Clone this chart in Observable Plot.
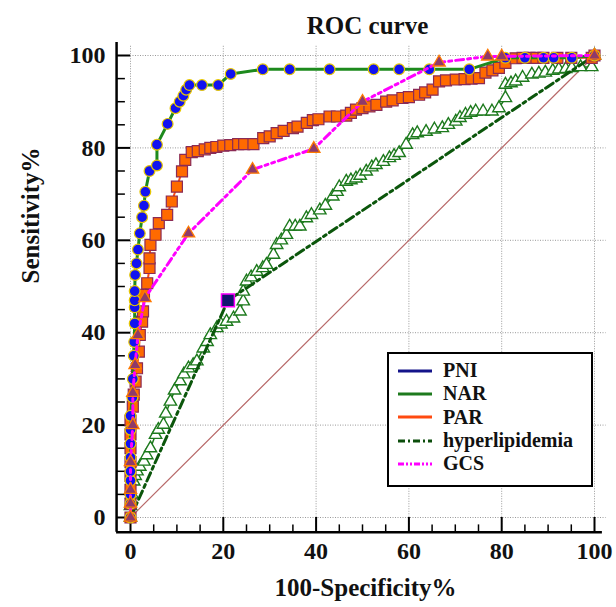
<!DOCTYPE html>
<html><head><meta charset="utf-8">
<script src="https://cdn.jsdelivr.net/npm/d3@7"></script>
<script src="https://cdn.jsdelivr.net/npm/@observablehq/plot@0.6"></script>
<style>
body{margin:0;background:#fff}
#wrap{position:relative;width:616px;height:607px;background:#fff}
#legend{position:absolute;left:387px;top:352px;width:202px;height:126px;border:2px solid #000;background:#fff;
 font-family:"Liberation Serif","Times New Roman",serif;font-weight:bold;font-size:20px;color:#111;padding-top:5px;box-sizing:content-box}
#legend .row{display:flex;align-items:center;height:23.3px}
#legend svg{margin-left:9px;margin-right:11px}
</style></head><body><div id="wrap"></div>
<script>
// ---- data (x = 100-Specificity %, y = Sensitivity %) ----
const pni = [[0,0],[0,3],[0,5],[0,8],[0,10],[0,13],[0,16],[0,19],[0,22],[0.4,26],[0.5,30],[0.7,35],[0.8,38],[0.9,42],[0.9,45.5],[0.9,47],[0.9,49],[1,52.5],[1.3,55],[1.6,58],[2,61.5],[2.5,65],[2.9,67.5],[3.2,70.5],[4.1,75],[5.7,76.2],[5.7,80.7],[8,85.2],[9.7,88.6],[10.6,90],[11.4,91.3],[12,92.6],[12.7,93.6],[15.4,93.6],[18.9,93.6],[21.6,96],[28.5,97],[34.3,97],[42.9,97],[52.4,97],[57.9,97],[64.4,97],[73,97],[80.8,99.5],[85,99.5],[89,99.5],[91.2,99.5],[95.1,99.5],[100,100]];
const par = [[0,0],[0,3],[0,6],[0,9],[0,12],[0,15],[0,18],[0,21],[0.5,24],[0.7,26.6],[1.1,29.4],[1.4,32.3],[1.8,35.9],[2,39.5],[2.5,42.4],[2.7,44.6],[2.9,48.2],[3.6,50.7],[4.1,54],[4.1,56.1],[4.3,59],[5.4,61.2],[6.1,63.7],[7.9,65.5],[8.9,68.4],[10,71.6],[11.1,74.9],[11.8,77.4],[13.2,79.1],[14.5,79.3],[16,79.7],[17.2,80],[18.5,80.2],[20,80.5],[21.5,80.6],[23.2,80.8],[24.5,80.8],[26.5,80.8],[28.6,82.1],[30,82.5],[31.5,83.2],[33,83.7],[35,84.3],[36,84.6],[38,85.4],[39.3,86],[40.5,86.2],[42.9,86.8],[44.5,86.8],[46.5,87],[47.5,87.6],[48.6,88.3],[50,88.6],[51.5,89],[53,89.3],[55.1,90],[56.5,90.3],[58.6,90.8],[60,91],[62.2,91.5],[63.5,92],[65.1,92.6],[66.5,94.4],[68,94.6],[70.1,94.8],[72,94.9],[73.5,95],[75.1,95.1],[76.5,96.3],[78,96.8],[79.4,97.3],[80.8,98.4],[83,99.4],[84.5,99.5],[86,99.5],[87.5,99.5],[89,99.5],[92,99.5],[95,99.5],[99.4,99.5],[100,100]];
const nar = [[0,0],[0,2.5],[0.3,5],[0.7,7.8],[1,9],[1.4,10],[2,11],[2.9,12.1],[3.5,13.5],[4.3,15],[5.4,17.9],[6,19],[7.1,20.1],[7.6,22.5],[8.6,25.1],[9.5,27.5],[10.7,29.5],[11.5,31],[12.5,32.3],[13.5,33],[14.3,33.8],[15.7,36.6],[16.5,38],[17.2,39.5],[18.6,41],[19.5,41.8],[20.7,42.4],[22.2,43.1],[23.6,44.6],[24.3,46.8],[24.3,48.9],[25,51.1],[26,52],[27.2,53.2],[28.5,54],[29.3,54.7],[30.8,56.9],[31.5,59],[32.5,60],[33.6,61.2],[34.3,63],[35.5,63],[36.5,63],[37.9,64.8],[39,65.5],[40.8,66.5],[42,67.5],[43.6,69.5],[44.5,70.5],[45,71.5],[46.5,72.7],[47.5,73],[48.6,73.4],[49.5,74],[50.8,74.9],[52,75.8],[52.9,76.3],[54.5,77],[55.8,77.8],[56.8,78.3],[57.9,78.9],[59.4,80.7],[60.8,82.8],[61.8,83.2],[63.7,83.5],[65.5,84],[67.2,84.3],[68.5,85],[70.1,85.7],[71,86.5],[72.2,87.2],[73.3,87.6],[74.4,87.9],[76,87.9],[77.9,87.9],[79.4,88.6],[80.8,90.8],[80.8,93.7],[82,94],[83,94.4],[84.5,95.2],[86.5,95.9],[88,96.1],[89.4,96.3],[91,96.7],[92.3,97],[93.8,97.1],[95.1,97.3],[97,97.5],[99.4,97.5],[100,100]];
const hyperlipidemia = [[0,0],[21,47],[100,100]];
const hyperMarker = [[21,47]];
const gcs = [[0,0],[0,3],[0,6],[0,12],[0.5,20],[0.5,27],[1,33],[1.6,39.5],[3.1,47.5],[12.5,61.5],[26.3,75.3],[39.5,79.8],[50,90],[66.5,98.5],[77,99.8],[80,99.8],[100,100]];
const diagonal = [[0,0],[100,100]];

const xMajor = [0,20,40,60,80,100];
const yMajor = [0,20,40,60,80,100];
const xMinor = [5,10,15,25,30,35,45,50,55,65,70,75,85,90,95];
const yMinor = [5,10,15,25,30,35,45,50,55,65,70,75,85,90,95];

const legendNames = ["PNI","NAR","PAR","hyperlipidemia","GCS"];
const legendColors = ["#14148a","#1d7a1d","#ff4a10","#0b4d0b","#ff00ff"];
const legendDashes = ["none","none","none","7,3,2,3","6,2,2,2,2,2"];

const font = '"Liberation Serif","Times New Roman",serif';
const P = d => d[0], Q = d => d[1];

const chart = Plot.plot({
  width: 616, height: 607,
  marginLeft: 130, marginRight: 22, marginTop: 55, marginBottom: 90,
  x: {domain: [0,100], axis: null},
  y: {domain: [0,100], axis: null},
  style: {background: "#fff", fontFamily: font},
  marks: [
    // grid
    Plot.ruleX(xMajor, {y1: -3.2, y2: 102.3, stroke: "#999", strokeDasharray: "1,1.5", strokeWidth: 1}),
    Plot.ruleY(yMajor, {x1: 0, x2: 102.5, stroke: "#999", strokeDasharray: "1,1.5", strokeWidth: 1}),
    // axes lines and ticks
    Plot.ruleX([-3], {y1: -3.2, y2: 102.8, stroke: "#000", strokeWidth: 2.5}),
    Plot.ruleY([-3.2], {x1: -3, x2: 101.7, stroke: "#000", strokeWidth: 2.5}),
    Plot.ruleY(yMajor, {x1: -3, x2: 0, stroke: "#000", strokeWidth: 2}),
    Plot.ruleY(yMinor, {x1: -3, x2: -1.1, stroke: "#000", strokeWidth: 1.5}),
    Plot.ruleX(xMajor, {y1: -3.2, y2: 0, stroke: "#000", strokeWidth: 2}),
    Plot.ruleX(xMinor, {y1: -3.2, y2: -1.6, stroke: "#000", strokeWidth: 1.5}),
    // tick labels
    Plot.text(yMajor, {y: d => d, text: d => String(d), frameAnchor: "left", dx: -25, textAnchor: "end", lineAnchor: "middle", fontSize: 24, fontWeight: "bold", fill: "#111"}),
    Plot.text(xMajor, {x: d => d, text: d => String(d), frameAnchor: "bottom", dy: 34, lineAnchor: "middle", fontSize: 24, fontWeight: "bold", fill: "#111"}),
    // titles
    Plot.text(["ROC curve"], {frameAnchor: "top", dx: 5, dy: -30, lineAnchor: "middle", fontSize: 25, fontWeight: "bold", fill: "#111"}),
    Plot.text(["100-Specificity%"], {frameAnchor: "bottom", dx: 3, dy: 70, lineAnchor: "middle", fontSize: 25, fontWeight: "bold", fill: "#111"}),
    Plot.text(["Sensitivity%"], {frameAnchor: "left", dx: -100, dy: -3, rotate: -90, lineAnchor: "middle", fontSize: 25, fontWeight: "bold", fill: "#111"}),
    // diagonal
    Plot.line(diagonal, {x: P, y: Q, stroke: "#b86a6a", strokeWidth: 1.2}),
    // NAR
    Plot.line(nar, {x: P, y: Q, stroke: "#1d7a1d", strokeWidth: 1.5}),
    Plot.dot(nar, {x: P, y: Q, symbol: "triangle", r: 4.6, fill: "#fff", stroke: "#1d7a1d", strokeWidth: 1.4}),
    // hyperlipidemia
    Plot.line(hyperlipidemia, {x: P, y: Q, stroke: "#0b560b", strokeWidth: 3, strokeDasharray: "9,4,3,4"}),
    Plot.dot(hyperMarker, {x: P, y: Q, symbol: "square", r: 7.3, fill: "#14146e", stroke: "#ff00ff", strokeWidth: 1.5}),
    // PAR
    Plot.line(par, {x: P, y: Q, stroke: "#ff4a10", strokeWidth: 2}),
    Plot.dot(par, {x: P, y: Q, symbol: "square", r: 6.2, fill: "#ff6a00", stroke: "#8b2b55", strokeWidth: 1.2}),
    // PNI
    Plot.line(pni, {x: P, y: Q, stroke: "#1d8a1d", strokeWidth: 3}),
    Plot.dot(pni, {x: P, y: Q, r: 5.4, fill: "#1212f0", stroke: "#e8c800", strokeWidth: 1.2}),
    // GCS
    Plot.line(gcs, {x: P, y: Q, stroke: "#ff00ff", strokeWidth: 3, strokeDasharray: "8,4,3,4,3,4"}),
    Plot.dot(gcs, {x: P, y: Q, symbol: "triangle", r: 4.6, fill: "#8e3a6a", stroke: "#ff7a00", strokeWidth: 1.3})
  ]
});

const wrap = document.getElementById("wrap");
wrap.appendChild(chart);

const legend = document.createElement("div");
legend.id = "legend";
legendNames.forEach((name, i) => {
  const row = document.createElement("div");
  row.className = "row";
  const dash = legendDashes[i] === "none" ? "" : ` stroke-dasharray="${legendDashes[i]}"`;
  row.innerHTML = `<svg width="34" height="6"><line x1="0" y1="3" x2="34" y2="3" stroke="${legendColors[i]}" stroke-width="3"${dash}/></svg><span>${name}</span>`;
  legend.appendChild(row);
});
wrap.appendChild(legend);
</script>
</body></html>
